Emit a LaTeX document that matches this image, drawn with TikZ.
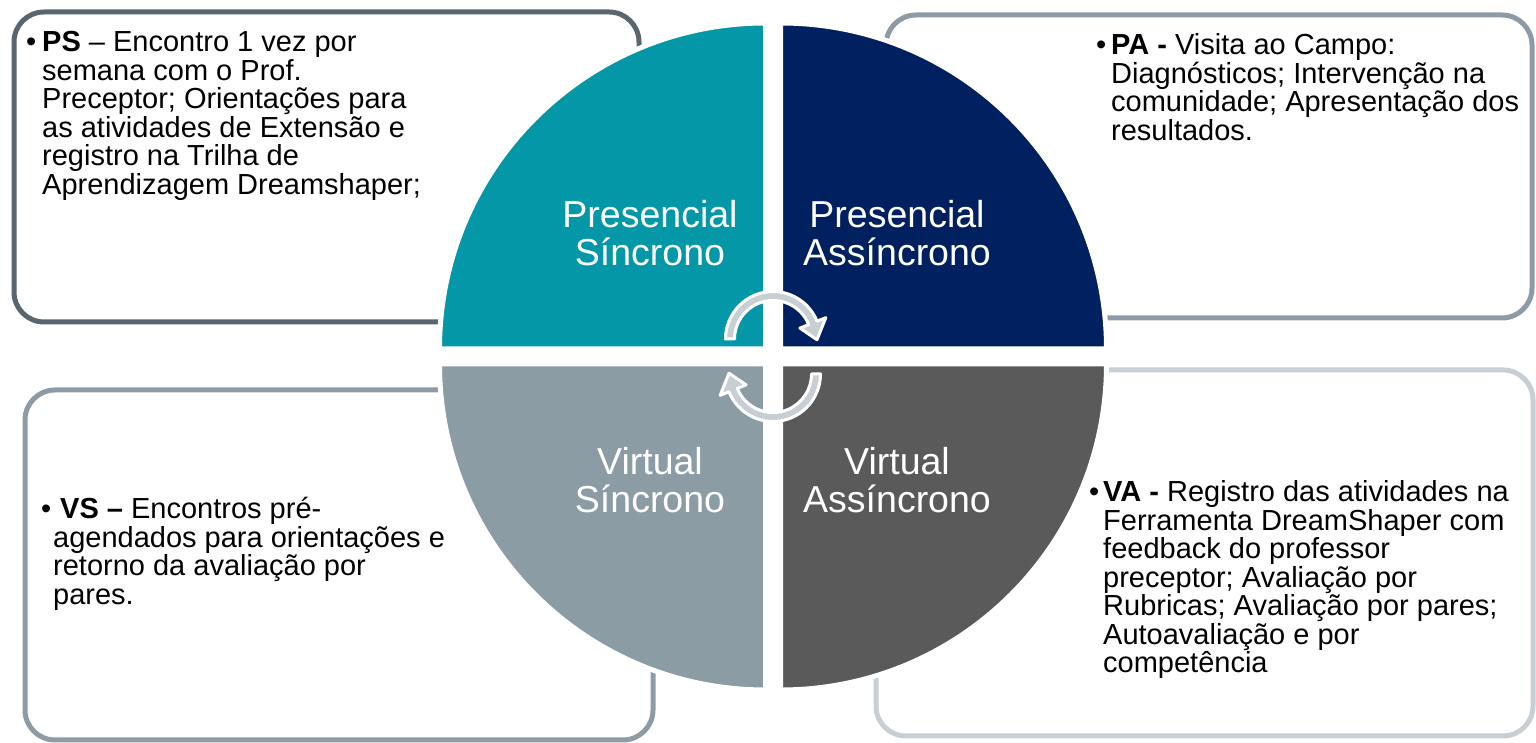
\documentclass[tikz,border=0pt]{standalone}
\usepackage{fontspec}
\setmainfont{Liberation Sans}
\usetikzlibrary{calc}
\definecolor{qteal}{HTML}{0397A7}
\definecolor{qnavy}{HTML}{002060}
\definecolor{qgrey}{HTML}{8B9CA5}
\definecolor{qdark}{HTML}{5A5A5A}
\definecolor{bdark}{HTML}{59666F}
\definecolor{bmid}{HTML}{8C9BA5}
\definecolor{blight}{HTML}{C8CFD4}
\definecolor{arrowgrey}{HTML}{C7CFD4}
\begin{document}
\begin{tikzpicture}[x=1pt,y=1pt,
  box/.style={draw, line width=5pt, rounded corners=30pt, inner sep=0pt, outer sep=0pt},
  quad/.style={draw=white, line width=5pt},
  qlabel/.style={text=white, font=\fontsize{37.5}{38}\selectfont, align=center, anchor=base, inner sep=0pt},
  desc/.style={font=\fontsize{29}{28.5}\selectfont, align=left, anchor=base west, inner sep=0pt},
  cyc/.style={fill=arrowgrey, draw=white, line width=3pt, line join=round}]
\useasboundingbox (0,0) rectangle (1536,743);

% description boxes
\node[box, draw=bdark, minimum width=625pt, minimum height=310pt] (psbox) at (326.5,576) {};
\node[box, draw=bmid, minimum width=646pt, minimum height=303pt] (pabox) at (1209,576.5) {};
\node[box, draw=bmid, minimum width=628pt, minimum height=350pt] (vsbox) at (339,178) {};
\node[box, draw=blight, minimum width=657pt, minimum height=366pt] (vabox) at (1204.5,190) {};

% quadrants
\filldraw[quad, fill=qteal] (765.5,394) -- ++(-326,0) arc[start angle=180, end angle=90, radius=326pt] -- cycle;
\filldraw[quad, fill=qnavy] (780.5,394) -- ++(0,326) arc[start angle=90, end angle=0, radius=326pt] -- cycle;
\filldraw[quad, fill=qgrey] (765.5,379) -- ++(0,-326) arc[start angle=270, end angle=180, radius=326pt] -- cycle;
\filldraw[quad, fill=qdark] (780.5,379) -- ++(326,0) arc[start angle=0, end angle=-90, radius=326pt] -- cycle;

% circular arrows
\coordinate (ctop) at (773,404);
\coordinate (cbot) at (773,369);
\filldraw[cyc] ($(ctop)+(180:47.5)$) arc[start angle=180, end angle=22, radius=47.5pt]
  -- ($(ctop)+(22:57)$) -- ($(ctop)+(-1:44)$) -- ($(ctop)+(22:29)$) -- ($(ctop)+(22:38.5)$)
  arc[start angle=22, end angle=180, radius=38.5pt] -- cycle;
\filldraw[cyc] ($(cbot)+(0:47.5)$) arc[start angle=0, end angle=-158, radius=47.5pt]
  -- ($(cbot)+(-158:57)$) -- ($(cbot)+(179:44)$) -- ($(cbot)+(-158:29)$) -- ($(cbot)+(-158:38.5)$)
  arc[start angle=-158, end angle=0, radius=38.5pt] -- cycle;

% quadrant labels (base anchor = last line)
\node[qlabel] (ps) at (650,477) {Presencial\\Síncrono};
\node[qlabel] (pa) at (897,477) {Presencial\\Assíncrono};
\node[qlabel] (vs) at (650,230) {Virtual\\Síncrono};
\node[qlabel] (va) at (897,230) {Virtual\\Assíncrono};

% descriptions (base anchor = last line)
\node[desc] (pstext) at (42,548.5) {\llap{•\hspace{6pt}}\textbf{PS} – Encontro 1 vez por\\
  semana com o Prof.\\ Preceptor; Orientações para\\ as atividades de Extensão e\\
  registro na Trilha de\\ Aprendizagem Dreamshaper;};
\node[desc] (patext) at (1111,602.5) {\llap{•\hspace{5pt}}\textbf{PA -} Visita ao Campo:\\
  Diagnósticos; Intervenção na\\ comunidade; Apresentação dos\\ resultados.};
\node[desc] (vstext) at (53,138.5) {\llap{•\hspace{2pt}}\hspace{7pt}\textbf{VS –} Encontros pré-\\
  agendados para orientações e\\ retorno da avaliação por\\ pares.};
\node[desc] (vatext) at (1103,70) {\llap{•\hspace{4pt}}\textbf{VA -} Registro das atividades na\\
  Ferramenta DreamShaper com\\ feedback do professor\\ preceptor; Avaliação por\\
  Rubricas; Avaliação por pares;\\ Autoavaliação e por\\ competência};
\end{tikzpicture}
\end{document}
